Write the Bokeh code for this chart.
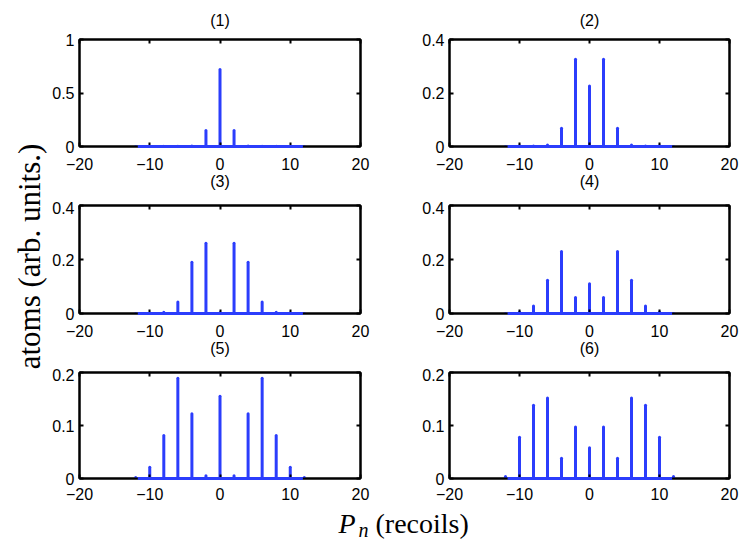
from bokeh.plotting import figure
from bokeh.models import FixedTicker, LinearAxis, Range1d, ColumnDataSource
from bokeh.layouts import column, row
from bokeh.core.properties import value
from bokeh.embed import file_html
from bokeh.resources import INLINE
import math

# ---------------- data ----------------
momenta = [-12, -10, -8, -6, -4, -2, 0, 2, 4, 6, 8, 10, 12]
panel_titles = ["(1)", "(2)", "(3)", "(4)", "(5)", "(6)"]
pop1 = [0.0, 0.002, 0.002, 0.002, 0.005, 0.15, 0.72, 0.15, 0.005, 0.002, 0.002, 0.002, 0.0]
pop2 = [0.0, 0.003, 0.002, 0.006, 0.068, 0.326, 0.226, 0.326, 0.068, 0.006, 0.002, 0.003, 0.0]
pop3 = [0.0, 0.002, 0.005, 0.043, 0.19, 0.26, 0.003, 0.26, 0.19, 0.043, 0.005, 0.002, 0.0]
pop4 = [0.0, 0.006, 0.028, 0.123, 0.23, 0.059, 0.11, 0.059, 0.23, 0.123, 0.028, 0.006, 0.0]
pop5 = [0.002, 0.021, 0.081, 0.189, 0.122, 0.005, 0.155, 0.005, 0.122, 0.189, 0.081, 0.021, 0.002]
pop6 = [0.004, 0.078, 0.138, 0.152, 0.038, 0.097, 0.058, 0.097, 0.038, 0.152, 0.138, 0.078, 0.004]
populations = [pop1, pop2, pop3, pop4, pop5, pop6]
y_max = [1.0, 0.4, 0.4, 0.4, 0.2, 0.2]
y_ticks = [[0, 0.5, 1], [0, 0.2, 0.4], [0, 0.2, 0.4], [0, 0.2, 0.4], [0, 0.1, 0.2], [0, 0.1, 0.2]]
y_tick_labels = [["0", "0.5", "1"], ["0", "0.2", "0.4"], ["0", "0.2", "0.4"],
                 ["0", "0.2", "0.4"], ["0", "0.1", "0.2"], ["0", "0.1", "0.2"]]
x_ticks = [-20, -10, 0, 10, 20]
x_tick_labels = ["\u221220", "\u221210", "0", "10", "20"]
momentum_extent = [-11.7, 11.8]
y_label = "atoms (arb. units.)"

BLUE = "#2b3dfc"
SANS = "Liberation Sans"
SERIF = "Liberation Serif"

# ---------------- layout params ----------------
YLAB_W = 48
LEFT_MBL, LEFT_MBR, RIGHT_MBL, RIGHT_MBR = 31, 40, 49, 18
left_fw, right_fw = 281, 280
frame_h = [107, 108, 106]
top_b = [39, 4, 4]
bot_b = [55, 55, 34]
x_label_standoff = [11, 11, 9]


def style_ticks(ax, ticks):
    ax.ticker = FixedTicker(ticks=ticks)
    ax.major_tick_in = 4
    ax.major_tick_out = 0
    ax.minor_tick_line_color = None
    ax.major_tick_line_color = "black"
    ax.major_tick_line_width = 2
    ax.axis_line_color = "black"
    ax.axis_line_width = 2


def style_title_label(ax, text, standoff):
    # the panel headings are carried by axis labels so that they may share
    # the space between rows with the tick labels
    ax.axis_label = text
    ax.axis_label_text_font = SANS
    ax.axis_label_text_font_style = "normal"
    ax.axis_label_text_font_size = "16px"
    ax.axis_label_text_color = "black"
    ax.axis_label_standoff = standoff


def make_panel(i, mbl, mbr, fw, rowi):
    p = figure(title=None, frame_width=fw, frame_height=frame_h[rowi],
               x_range=Range1d(-20, 20), y_range=Range1d(0, y_max[i]),
               output_backend="svg", toolbar_location=None,
               min_border_left=mbl, min_border_right=mbr,
               min_border_top=top_b[rowi], min_border_bottom=bot_b[rowi],
               background_fill_color="white", border_fill_color="white")
    p.xgrid.visible = False
    p.ygrid.visible = False
    p.outline_line_color = "black"
    p.outline_line_width = 2
    p.outline_line_alpha = 1

    bottom_ax = p.xaxis[0]
    left_ax = p.yaxis[0]
    for ax, ticks, labels, so in ((bottom_ax, x_ticks, x_tick_labels, x_label_standoff[rowi]),
                                  (left_ax, y_ticks[i], y_tick_labels[i], 5)):
        style_ticks(ax, ticks)
        ax.major_label_overrides = {t: l for t, l in zip(ticks, labels)}
        ax.major_label_text_font = SANS
        ax.major_label_text_font_size = "16px"
        ax.major_label_text_color = "black"
        ax.major_label_standoff = so

    top_ax = LinearAxis()
    right_ax = LinearAxis()
    for ax, ticks in ((top_ax, x_ticks), (right_ax, y_ticks[i])):
        style_ticks(ax, ticks)
        ax.major_label_text_font_size = "0px"
        ax.major_label_text_alpha = 0
        ax.major_label_standoff = 0
    p.add_layout(top_ax, "above")
    p.add_layout(right_ax, "right")

    # heading of this panel (first row) and of the panel below (rows 1-2)
    if rowi == 0:
        style_title_label(top_ax, panel_titles[i], 11)
    if i + 2 < len(panel_titles):
        style_title_label(bottom_ax, panel_titles[i + 2], 0)

    src = ColumnDataSource(dict(n=momenta, h=populations[i]))
    p.segment(x0="n", y0=0, x1="n", y1="h", source=src,
              line_color=BLUE, line_width=3, line_cap="round")
    base = p.line(x=momentum_extent, y=[0, 0], line_color=BLUE, line_width=3)
    base.level = "overlay"
    return p


panels = []
for i in range(6):
    rowi = i // 2
    if i % 2 == 0:
        panels.append(make_panel(i, LEFT_MBL, LEFT_MBR, left_fw, rowi))
    else:
        panels.append(make_panel(i, RIGHT_MBL, RIGHT_MBR, right_fw, rowi))

grid_h = sum(frame_h) + sum(top_b) + sum(bot_b)

# y label figure
ylab = figure(title=None, width=YLAB_W, height=grid_h, x_range=Range1d(0, YLAB_W),
              y_range=Range1d(0, grid_h), min_border=0, x_axis_location=None,
              y_axis_location=None, toolbar_location=None, output_backend="svg",
              outline_line_color=None)
ylab.xgrid.visible = False
ylab.ygrid.visible = False
ylab.text(x=[29], y=[grid_h - 256], text=[y_label], angle=math.pi / 2,
          text_font=value(SERIF), text_font_size="31px", text_color="black",
          text_align="center", text_baseline="middle")

# x label figure
total_w = YLAB_W + LEFT_MBL + left_fw + LEFT_MBR + RIGHT_MBL + right_fw + RIGHT_MBR
XLAB_H = 541 - grid_h
xlab = figure(title=None, width=total_w, height=XLAB_H, x_range=Range1d(0, total_w),
              y_range=Range1d(0, XLAB_H), min_border=0, x_axis_location=None,
              y_axis_location=None, toolbar_location=None, output_backend="svg",
              outline_line_color=None)
xlab.xgrid.visible = False
xlab.ygrid.visible = False
xlab.text(x=[338], y=[18], text=["P"], text_font=value(SERIF), text_font_style="italic",
          text_font_size="28px", text_color="black", text_align="left", text_baseline="middle")
xlab.text(x=[358], y=[12], text=["n"], text_font=value(SERIF), text_font_style="italic",
          text_font_size="20px", text_color="black", text_align="left", text_baseline="middle")
xlab.text(x=[375], y=[18], text=["(recoils)"], text_font=value(SERIF),
          text_font_size="28px", text_color="black", text_align="left", text_baseline="middle")

grid = column(row(panels[0], panels[1]), row(panels[2], panels[3]), row(panels[4], panels[5]))
layout = column(row(ylab, grid), xlab)

open("out.html", "w").write(file_html(layout, INLINE))
